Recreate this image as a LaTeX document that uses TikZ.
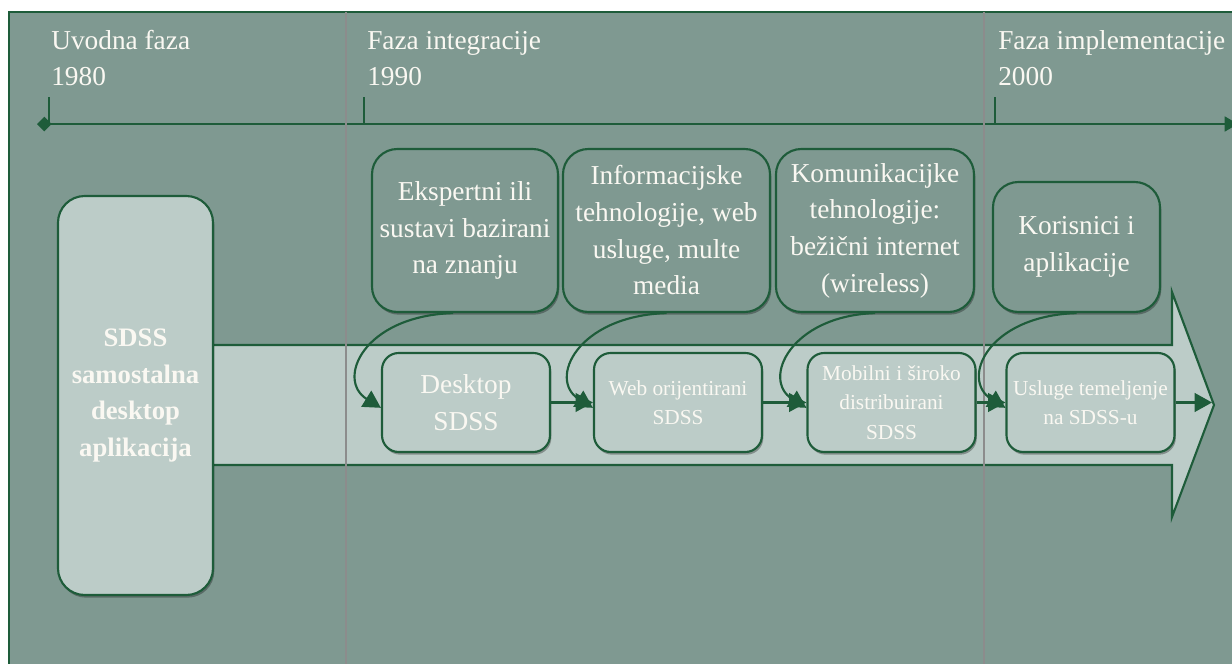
\documentclass[tikz,border=0pt]{standalone}
\usepackage{fontspec}
\setmainfont{Liberation Serif}
\usetikzlibrary{arrows.meta,shadows}
\definecolor{bg}{RGB}{127,153,145}
\definecolor{lite}{RGB}{188,204,200}
\definecolor{dk}{RGB}{30,92,58}
\definecolor{gr}{RGB}{140,140,140}
\definecolor{txt}{RGB}{250,248,242}
\tikzset{
  boxshadow/.style={drop shadow={shadow xshift=1pt,shadow yshift=-2pt,opacity=0.3,fill=black}},
  topbox/.style={draw=dk,line width=1.6pt,fill=bg,rounded corners=19pt,align=center,text=txt,
    font=\fontsize{20.5}{27.5}\selectfont,inner sep=0pt,boxshadow},
  botbox/.style={draw=dk,line width=1.6pt,fill=lite,rounded corners=12.5pt,align=center,text=txt,
    inner sep=0pt,minimum width=126pt,minimum height=74.25pt,boxshadow},
  bigfont/.style={font=\fontsize{20.5}{27.5}\selectfont},
  smallfont/.style={font=\fontsize{16}{22}\selectfont},
  phase/.style={anchor=base west,inner sep=0pt,text=txt,font=\fontsize{20.5}{27.5}\selectfont},
  conn/.style={dk,line width=1.6pt,-{Triangle[length=13pt,width=14pt]}},
  tick/.style={dk,line width=2pt},
  divider/.style={gr,line width=1.5pt},
}
\begin{document}
\begin{tikzpicture}[x=0.75pt,y=-0.75pt]
\useasboundingbox (0,0) rectangle (1232,664);
\clip (0,0) rectangle (1232,664);
\fill[white] (0,0) rectangle (1232,664);
\draw[dk,line width=1.6pt,fill=bg] (9,12) rectangle (1245,675);

% timeline
\coordinate (tl0) at (37,124);
\coordinate (tl1) at (1238,124);
\draw[dk,line width=2pt,{Diamond[length=11pt,width=11pt]}-{Triangle[length=10pt,width=11pt]}] (tl0) -- (tl1);
\coordinate (k1a) at (49,97);  \coordinate (k1b) at (49,124);
\coordinate (k2a) at (364,97); \coordinate (k2b) at (364,124);
\coordinate (k3a) at (995,97); \coordinate (k3b) at (995,124);
\draw[tick] (k1a) -- (k1b);
\draw[tick] (k2a) -- (k2b);
\draw[tick] (k3a) -- (k3b);

\node[phase] (p1) at (51,49) {Uvodna faza};
\node[phase] (y1) at (51,85) {1980};
\node[phase] (p2) at (367,49) {Faza integracije};
\node[phase] (y2) at (367,85) {1990};
\node[phase] (p3) at (998,49) {Faza implementacije};
\node[phase] (y3) at (998,85) {2000};

% big arrow
\draw[dk,line width=1.6pt,fill=lite,line join=miter]
  (200,345) -- (1172,345) -- (1172,292) -- (1214,405) -- (1172,517) -- (1172,465) -- (200,465) -- cycle;

% dividers
\coordinate (d1a) at (346,12); \coordinate (d1b) at (346,664);
\coordinate (d2a) at (984,12); \coordinate (d2b) at (984,664);
\draw[divider] (d1a) -- (d1b);
\draw[divider] (d2a) -- (d2b);

% left box
\node[draw=dk,line width=1.6pt,fill=lite,rounded corners=20pt,inner sep=0pt,
  minimum width=116.25pt,minimum height=299.25pt,align=center,text=txt,boxshadow,
  font=\bfseries\fontsize{20}{27.5}\selectfont] (left) at (135.5,395.5)
  {SDSS\\samostalna\\desktop\\aplikacija};

% top boxes
\node[topbox,minimum width=139.5pt,minimum height=122.25pt] (t1) at (465,230.5)
  {Ekspertni ili\\sustavi bazirani\\na znanju};
\node[topbox,minimum width=155.25pt,minimum height=122.25pt] (t2) at (666.5,230.5)
  {Informacijske\\tehnologije, web\\usluge, multe\\media};
\node[topbox,minimum width=148.5pt,minimum height=122.25pt] (t3) at (875,230.5)
  {Komunikacijke\\tehnologije:\\bežični internet\\(wireless)};
\node[topbox,minimum width=125.25pt,minimum height=97.5pt] (t4) at (1076.5,247)
  {Korisnici i\\aplikacije};

% bottom boxes
\node[botbox,bigfont] (bA) at (466,402.5) {Desktop\\SDSS};
\node[botbox,smallfont] (bB) at (678,402.5) {Web orijentirani\\SDSS};
\node[botbox,smallfont] (bC) at (891.5,402.5) {Mobilni i široko\\distribuirani\\SDSS};
\node[botbox,smallfont] (bD) at (1090.5,402.5) {Usluge temeljenje\\na SDSS-u};
\coordinate (tip) at (1212,402.5);

% connectors
\draw[conn] (bA) -- (bB);
\draw[conn] (bB) -- (bC);
\draw[conn] (bC) -- (bD);
\draw[conn] (bD) -- (tip);

\draw[conn] ([xshift=-9pt]t1.south) .. controls +(-90,3) and +(-45,-28) .. ([yshift=-4pt]bA.west);
\draw[conn] (t2.south) .. controls +(-90,3) and +(-45,-28) .. ([yshift=-4pt]bB.west);
\draw[conn] (t3.south) .. controls +(-85,3) and +(-45,-28) .. ([yshift=-4pt]bC.west);
\draw[conn] (t4.south) .. controls +(-90,3) and +(-45,-28) .. ([yshift=-4pt]bD.west);
\end{tikzpicture}
\end{document}
